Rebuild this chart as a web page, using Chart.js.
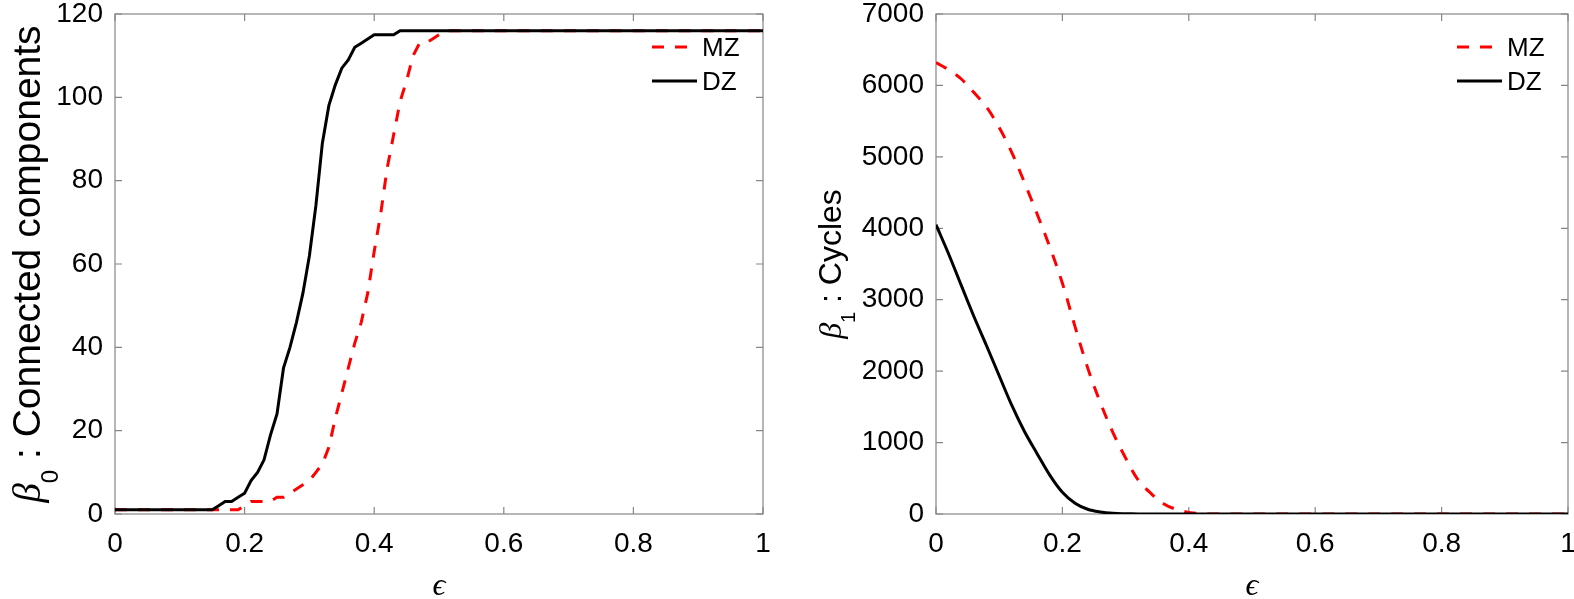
<!DOCTYPE html>
<html>
<head>
<meta charset="utf-8">
<script src="https://cdn.jsdelivr.net/npm/chart.js@4.4.1/dist/chart.umd.min.js"></script>
<style>
  html, body { margin: 0; padding: 0; background: #fff; }
  #wrap { position: relative; width: 1574px; height: 599px; overflow: hidden; }
  canvas { position: absolute; top: 0; }
</style>
</head>
<body>
<div id="wrap">
  <canvas id="b0" width="780" height="599" style="left:0"></canvas>
  <canvas id="b1" width="794" height="599" style="left:780px"></canvas>
</div>
<script>
// tick labels
const epsTicks = [0, 0.2, 0.4, 0.6, 0.8, 1];
const b0Ticks = [0, 20, 40, 60, 80, 100, 120];
const b1Ticks = [0, 1000, 2000, 3000, 4000, 5000, 6000, 7000];

// beta_0 (left panel)
const b0MzEps = [0, 0.19, 0.20, 0.21, 0.24, 0.25, 0.26, 0.27, 0.28, 0.29, 0.30, 0.31, 0.32, 0.33, 0.34, 0.35,
                 0.36, 0.37, 0.38, 0.39, 0.40, 0.41, 0.42, 0.43, 0.44, 0.45, 0.46, 0.47, 0.48, 0.49, 0.50, 0.51, 1];
const b0MzVal = [1, 1, 2, 3, 3, 4, 4, 5, 6, 7, 8, 10, 12, 16, 23, 29,
                 35, 41, 46, 53, 63, 72, 83, 91, 99, 104, 110, 113, 113, 114, 115, 116, 116];
const b0DzEps = [0, 0.15, 0.16, 0.17, 0.18, 0.19, 0.20, 0.21, 0.22, 0.23, 0.24, 0.25, 0.26, 0.27, 0.28, 0.29,
                 0.30, 0.31, 0.32, 0.33, 0.34, 0.35, 0.36, 0.37, 0.38, 0.39, 0.40, 0.43, 0.44, 1];
const b0DzVal = [1, 1, 2, 3, 3, 4, 5, 8, 10, 13, 19, 24, 35, 40, 46, 53,
                 62, 74, 89, 98, 103, 107, 109, 112, 113, 114, 115, 115, 116, 116];

// beta_1 (right panel)
const b1Eps = [0, 0.02, 0.04, 0.06, 0.08, 0.10, 0.12, 0.14, 0.16, 0.18, 0.20, 0.22, 0.24,
               0.26, 0.28, 0.30, 0.32, 0.34, 0.36, 0.38, 0.40, 0.42, 0.44, 1];
const b1MzVal = [6320, 6220, 6090, 5900, 5695, 5410, 5060, 4640, 4200, 3740, 3230, 2624, 2046,
                 1560, 1139, 785, 475, 290, 145, 65, 22, 5, 0, 0];
const b1DzVal = [4050, 3640, 3200, 2765, 2355, 1935, 1520, 1155, 845, 545, 304, 150, 66,
                 28, 10, 4, 1, 0, 0, 0, 0, 0, 0, 0];

const AXIS_GREY = '#868686';
const SANS = "'Liberation Sans', Arial, Helvetica, sans-serif";
const SERIF = "'Liberation Serif', 'DejaVu Serif', serif";

function pts(xs, ys) {
    return xs.map((x, i) => ({ x: x, y: ys[i] }));
}

// box, inward ticks, axis labels and legend, matlab style
const matlabAxes = {
    id: 'matlabAxes',
    beforeDatasetsDraw(chart) {
        const { ctx, chartArea: a, scales: { x, y } } = chart;
        const tl = 7;
        ctx.save();
        ctx.strokeStyle = AXIS_GREY;
        ctx.lineWidth = 1.2;
        ctx.strokeRect(a.left, a.top, a.right - a.left, a.bottom - a.top);
        ctx.beginPath();
        x.ticks.forEach(t => {
            const px = x.getPixelForValue(t.value);
            ctx.moveTo(px, a.bottom); ctx.lineTo(px, a.bottom - tl);
            ctx.moveTo(px, a.top); ctx.lineTo(px, a.top + tl);
        });
        y.ticks.forEach(t => {
            const py = y.getPixelForValue(t.value);
            ctx.moveTo(a.left, py); ctx.lineTo(a.left + tl, py);
            ctx.moveTo(a.right, py); ctx.lineTo(a.right - tl, py);
        });
        ctx.stroke();
        ctx.restore();
    },
    afterDraw(chart, args, opts) {
        const { ctx, chartArea: a } = chart;
        ctx.save();
        ctx.fillStyle = '#000';
        ctx.textBaseline = 'alphabetic';

        // y label: beta_n : text, rotated
        const S = opts.size;
        const parts = [
            { t: 'β', f: 'italic ' + S + 'px ' + SERIF, dy: 0 },
            { t: opts.sub, f: Math.round(S * 0.62) + 'px ' + SANS, dy: S * 0.45 },
            { t: ' : ' + opts.text, f: S + 'px ' + SANS, dy: 0 }
        ];
        let total = 0;
        parts.forEach(p => { ctx.font = p.f; p.w = ctx.measureText(p.t).width; total += p.w; });
        ctx.translate(opts.cx, (a.top + a.bottom) / 2);
        ctx.rotate(-Math.PI / 2);
        let cur = -total / 2;
        ctx.textAlign = 'left';
        parts.forEach(p => {
            ctx.font = p.f;
            ctx.fillText(p.t, cur, S * 0.36 + p.dy);
            cur += p.w;
        });
        ctx.setTransform(1, 0, 0, 1, 0, 0);

        // x label
        ctx.font = 'italic 32px ' + SERIF;
        ctx.textAlign = 'center';
        ctx.fillText('ϵ', (a.left + a.right) / 2, 595);

        // legend
        ctx.font = '26px ' + SANS;
        ctx.textAlign = 'left';
        ctx.textBaseline = 'middle';
        const rows = [47, 81];
        chart.data.datasets.forEach((ds, i) => {
            const ly = rows[i];
            ctx.strokeStyle = ds.borderColor;
            ctx.lineWidth = ds.borderWidth;
            ctx.setLineDash(ds.borderDash || []);
            ctx.beginPath();
            ctx.moveTo(a.right - 111, ly);
            ctx.lineTo(a.right - 66, ly);
            ctx.stroke();
            ctx.fillText(ds.label, a.right - 61, ly + 2);
        });
        ctx.restore();
    }
};

function makePanel(id, mz, dz, yTicks, yMax, yWidth, padRight, label) {
    const tickFont = { family: SANS, size: 28 };
    return new Chart(document.getElementById(id), {
        type: 'line',
        data: {
            datasets: [
                { label: 'MZ', data: mz, borderColor: '#ff0000', borderWidth: 3, borderDash: [12, 11],
                  pointRadius: 0, fill: false, tension: label.smooth ? 0.35 : 0, order: 1 },
                { label: 'DZ', data: dz, borderColor: '#000000', borderWidth: 3,
                  pointRadius: 0, fill: false, tension: label.smooth ? 0.35 : 0, order: 0 }
            ]
        },
        options: {
            responsive: false,
            animation: false,
            events: [],
            layout: { padding: { top: 14, right: padRight, left: 0, bottom: 0 } },
            plugins: {
                legend: { display: false },
                tooltip: { enabled: false },
                matlabAxes: label
            },
            scales: {
                x: {
                    type: 'linear', min: 0, max: 1,
                    afterBuildTicks: s => { s.ticks = epsTicks.map(v => ({ value: v })); },
                    afterFit: s => { s.height = 85; s.paddingLeft = 0; s.paddingRight = 0; },
                    grid: { display: false, drawTicks: false },
                    border: { display: false },
                    ticks: { color: '#000', font: tickFont, padding: 13, maxRotation: 0, autoSkip: false,
                             callback: v => String(v) }
                },
                y: {
                    type: 'linear', min: 0, max: yMax,
                    afterBuildTicks: s => { s.ticks = yTicks.map(v => ({ value: v })); },
                    afterFit: s => { s.width = yWidth; s.paddingTop = 0; s.paddingBottom = 0; },
                    grid: { display: false, drawTicks: false },
                    border: { display: false },
                    ticks: { color: '#000', font: tickFont, padding: 12, autoSkip: false,
                             callback: v => String(v) }
                }
            }
        },
        plugins: [matlabAxes]
    });
}

makePanel('b0', pts(b0MzEps, b0MzVal), pts(b0DzEps, b0DzVal), b0Ticks, 120, 115, 17,
    { sub: '0', text: 'Connected components', cx: 26, size: 39, smooth: false });
makePanel('b1', pts(b1Eps, b1MzVal), pts(b1Eps, b1DzVal), b1Ticks, 7000, 156, 6,
    { sub: '1', text: 'Cycles', cx: 49, size: 32, smooth: true });
</script>
</body>
</html>
